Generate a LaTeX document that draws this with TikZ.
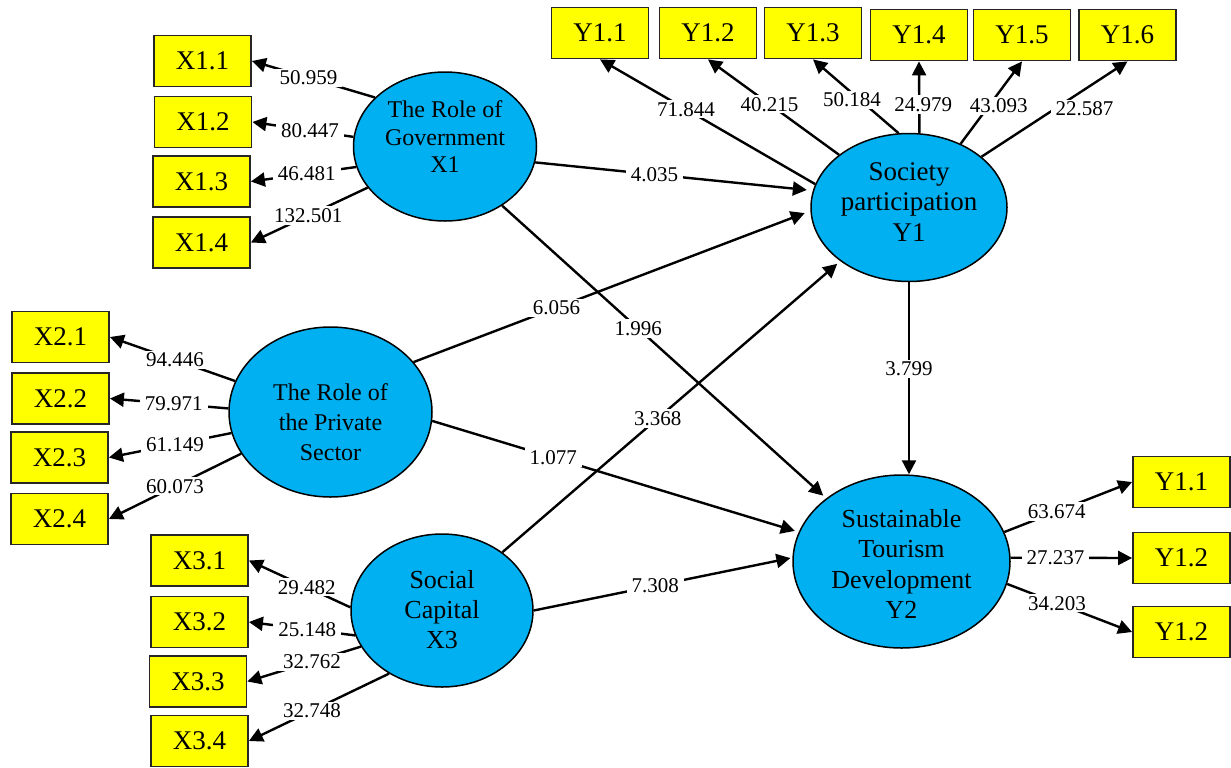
\documentclass[tikz,border=0pt]{standalone}
\usepackage{fontspec}
\setmainfont{Liberation Serif}
\usetikzlibrary{shapes.geometric,arrows.meta}
\definecolor{latblue}{RGB}{0,176,240}
\definecolor{boxyellow}{RGB}{255,255,0}
\begin{document}
\begin{tikzpicture}[x=0.5pt,y=-0.5pt,
  ind/.style={draw=black!85,line width=0.9pt,fill=boxyellow,minimum width=48.5pt,minimum height=25.5pt,inner sep=0pt,font=\fontsize{13.5}{15}\selectfont},
  lat/.style={ellipse,draw,line width=0.75pt,fill=latblue,inner sep=0pt},
  lattext/.style={align=center,inner sep=0pt},
  conn/.style={line width=1.2pt,-{Triangle[length=7pt,width=7pt]}},
  coef/.style={fill=white,inner xsep=2.5pt,inner ysep=1pt,font=\fontsize{10.5}{12}\selectfont},
]
\useasboundingbox (0,0) rectangle (1231,767);

% latent variables
\node[lat,minimum width=91.5pt,minimum height=74.5pt] (x1) at (445,146.5) {};
\node[lattext,font=\fontsize{12}{13.75}\selectfont] (x1t) at (445,137) {The Role of\\Government\\X1};
\node[lat,minimum width=101.5pt,minimum height=85pt] (x2) at (330.5,412) {};
\node[lattext,font=\fontsize{12}{15}\selectfont] (x2t) at (330.5,422) {The Role of\\the Private\\Sector};
\node[lat,minimum width=91pt,minimum height=76.5pt] (x3) at (442,610.5) {};
\node[lattext,font=\fontsize{13}{15}\selectfont] (x3t) at (442,609.5) {Social\\Capital\\X3};
\node[lat,minimum width=98pt,minimum height=74pt] (y1) at (909,207.5) {};
\node[lattext,font=\fontsize{13.5}{15.25}\selectfont] (y1t) at (909,202) {Society\\participation\\Y1};
\node[lat,minimum width=108.5pt,minimum height=86.5pt] (y2) at (901.5,561.5) {};
\node[lattext,font=\fontsize{13}{15.3}\selectfont] (y2t) at (901.5,564) {Sustainable\\Tourism\\Development\\Y2};

% indicators
\node[ind] (x11) at (202.5,61) {X1.1};
\node[ind] (x12) at (203,122) {X1.2};
\node[ind] (x13) at (201.5,181.5) {X1.3};
\node[ind] (x14) at (201.5,242.5) {X1.4};
\node[ind] (x21) at (60.5,337) {X2.1};
\node[ind] (x22) at (60.5,398.5) {X2.2};
\node[ind] (x23) at (59.5,457.5) {X2.3};
\node[ind] (x24) at (59.5,519) {X2.4};
\node[ind] (x31) at (199.5,560.5) {X3.1};
\node[ind] (x32) at (199.5,622) {X3.2};
\node[ind] (x33) at (198,681.5) {X3.3};
\node[ind] (x34) at (199.5,741) {X3.4};
\node[ind] (y11) at (600,33) {Y1.1};
\node[ind] (y12) at (708,33) {Y1.2};
\node[ind] (y13) at (813,33) {Y1.3};
\node[ind] (y14) at (919,35) {Y1.4};
\node[ind] (y15) at (1022,35) {Y1.5};
\node[ind] (y16) at (1127.5,35) {Y1.6};
\node[ind] (y21) at (1181.5,482) {Y1.1};
\node[ind] (y22) at (1181.5,558) {Y1.2};
\node[ind] (y23) at (1181.5,632) {Y1.2};

% loadings X1
\draw[conn] (x1.145) -- node[coef,pos=0.54] {50.959} (x11.east);
\draw[conn] (x1.174) -- node[coef,pos=0.43] {80.447} (x12.east);
\draw[conn] (x1.193) -- node[coef,pos=0.47] {46.481} (x13.east);
\draw[conn] (x1.208) -- node[coef,pos=0.51] {132.501} (x14.east);
% loadings X2
\draw[conn] (x2.162) -- node[coef,pos=0.48] {94.446} (x21.east);
\draw[conn] (x2.178) -- node[coef,pos=0.46] {79.971} (x22.east);
\draw[conn] (x2.192) -- node[coef,pos=0.46] {61.149} (x23.east);
\draw[conn] (x2.205) -- node[coef,pos=0.50] {60.073} (x24.east);
% loadings X3
\draw[conn] (x3.178) -- node[coef,pos=0.43] {29.482} (x31.east);
\draw[conn] (x3.196) -- node[coef,pos=0.45] {25.148} (x32.east);
\draw[conn] (x3.204) -- node[coef,pos=0.43] {32.762} (x33.east);
\draw[conn] (x3.230) -- node[coef,pos=0.55] {32.748} (x34.east);
% loadings Y1
\draw[conn] (y1.166) -- node[coef,pos=0.60] {71.844} (y11.south);
\draw[conn] (y1.143) -- node[coef,pos=0.53] {40.215} (y12.south);
\draw[conn] (y1.98) -- node[coef,pos=0.45,xshift=-4pt] {50.184} (y13.south);
\draw[conn] (y1.82) -- node[coef,pos=0.40,xshift=2pt] {24.979} (y14.south);
\draw[conn] (y1.51) -- node[coef,pos=0.46,xshift=5pt] {43.093} (y15.south);
\draw[conn] (y1.35) -- node[coef,pos=0.5,xshift=15pt] {22.587} (y16.south);
% loadings Y2
\draw[conn] (y2.16) -- node[coef,pos=0.41] {63.674} (y21.west);
\draw[conn] (y2.2) -- node[coef,pos=0.37] {27.237} (y22.west);
\draw[conn] (y2.348) -- node[coef,pos=0.40] {34.203} (y23.west);

% structural paths
\draw[conn,shorten >=3pt] (x1.350) -- node[coef,pos=0.43] {4.035} (y1.170);
\draw[conn,shorten >=2pt] (x1.314) -- node[coef,pos=0.42] {1.996} (y2.140);
\draw[conn,shorten >=3pt] (x2.31) -- node[coef,pos=0.36] {6.056} (y1.182);
\draw[conn,shorten >=2pt] (x2.355) -- node[coef,pos=0.33] {1.077} (y2.164);
\draw[conn,shorten >=2pt] (x3.44) -- node[coef,pos=0.46] {3.368} (y1.218);
\draw[conn,shorten >=1pt] (x3.0) -- node[coef,pos=0.47] {7.308} (y2.178);
\draw[conn] (y1.south) -- node[coef,pos=0.45] {3.799} (y1.south |- y2.north);
\end{tikzpicture}
\end{document}
